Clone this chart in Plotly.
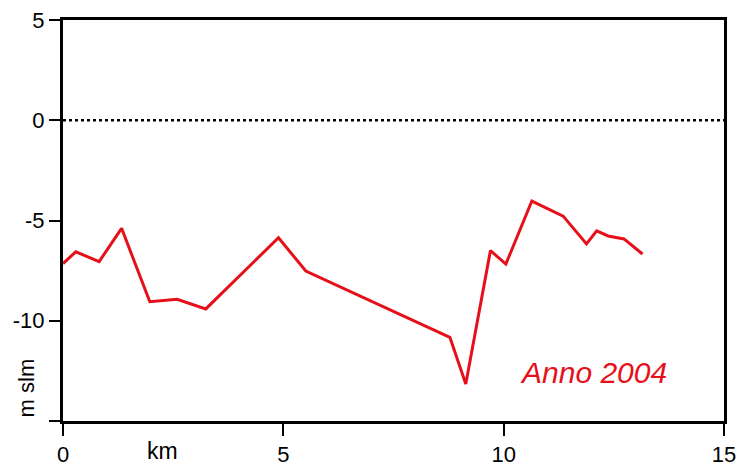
import plotly.graph_objects as go

km = [0.0, 0.29, 0.82, 1.33, 1.97, 2.59, 3.24, 4.89, 5.51, 8.78, 9.14, 9.70, 10.05, 10.64, 11.35, 11.88, 12.11, 12.37, 12.73, 13.15]
quota = [-7.15, -6.56, -7.05, -5.39, -9.05, -8.93, -9.41, -5.86, -7.52, -10.83, -13.15, -6.5, -7.17, -4.03, -4.78, -6.17, -5.52, -5.77, -5.92, -6.67]

x_ticks = [0, 5, 10, 15]
x_labels = ["0", "5", "10", "15"]
y_ticks = [5, 0, -5, -10, -15]
y_labels = ["5", "0", "-5", "-10", ""]

red = "#e6101a"
font = "Liberation Sans, Arial, sans-serif"

fig = go.Figure()
fig.add_trace(go.Scatter(x=km, y=quota, mode="lines",
                         line=dict(color=red, width=3), showlegend=False,
                         hoverinfo="skip"))

fig.add_shape(type="line", x0=0, x1=15, y0=0, y1=0, xref="x", yref="y",
              line=dict(color="black", width=2.5, dash="dot"))

fig.add_annotation(text="<i>Anno 2004</i>", x=13.75, y=-12.6, xref="x", yref="y",
                   showarrow=False, xanchor="right", yanchor="middle",
                   font=dict(color=red, size=30, family=font))
fig.add_annotation(text="km", x=2.25, y=-15, xref="x", yref="y",
                   showarrow=False, xanchor="center", yanchor="middle", yshift=-30,
                   font=dict(color="black", size=23, family=font))
fig.add_annotation(text="m slm", x=0, y=-13.35, xref="x", yref="y",
                   showarrow=False, textangle=-90, xanchor="right", yanchor="middle",
                   xshift=-22,
                   font=dict(color="black", size=22, family=font))

fig.update_xaxes(range=[0, 15], tickvals=x_ticks, ticktext=x_labels, automargin=False,
                 ticklabeloverflow="allow",
                 showgrid=False, zeroline=False, showline=True, linecolor="black",
                 linewidth=3, mirror=True, ticks="outside", ticklen=12, tickwidth=1.5,
                 tickcolor="black", tickfont=dict(size=22, color="black", family=font))
fig.update_yaxes(range=[-15, 5], tickvals=y_ticks, ticktext=y_labels, automargin=False,
                 ticklabeloverflow="allow",
                 showgrid=False, zeroline=False, showline=True, linecolor="black",
                 linewidth=3, mirror=True, ticks="outside", ticklen=11, tickwidth=1.5,
                 tickcolor="black", tickfont=dict(size=22, color="black", family=font))

# page body has an 8px margin, so the figure is sized to fit inside the window
fig.update_layout(width=737, height=458, margin=dict(l=55, r=21, t=12, b=45),
                  paper_bgcolor="white", plot_bgcolor="white")

fig.write_html("out.html")
